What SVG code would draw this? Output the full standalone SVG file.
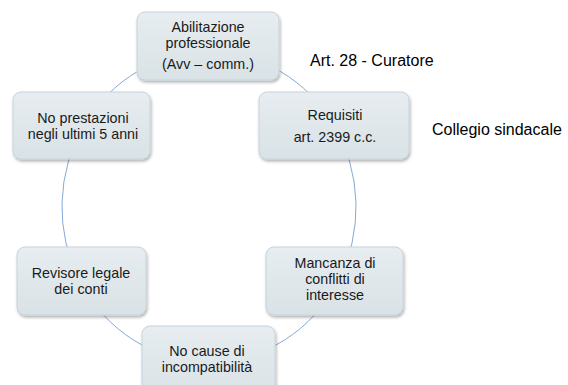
<svg xmlns="http://www.w3.org/2000/svg" width="568" height="385" viewBox="0 0 568 385">
<style>
.box{fill:url(#g);stroke:#c6d3db;stroke-width:1;filter:url(#sh)}
.t{font-family:"Liberation Sans",Arial,sans-serif;font-size:14.3px;fill:#1a1a1a;text-anchor:middle}
.lbl{font-family:"Liberation Sans",Arial,sans-serif;font-size:16px;fill:#000}
.arc{fill:none;stroke:#86a9d6;stroke-width:1}
</style>
<defs>
<linearGradient id="g" x1="0" y1="0" x2="0" y2="1">
<stop offset="0" stop-color="#e7edf0"/>
<stop offset="1" stop-color="#d9e2e6"/>
</linearGradient>
<filter id="sh" x="-10%" y="-10%" width="125%" height="130%">
<feDropShadow dx="1" dy="2" stdDeviation="1.5" flood-color="#000" flood-opacity="0.3"/>
</filter>
</defs>
<rect width="568" height="385" fill="#fff"/>
<g id="connectors">
<path class="arc" d="M209,52 A147,155 0 0 1 333.8,125"/>
<path class="arc" d="M333.8,125 A147,155 0 0 1 338.2,281"/>
<path class="arc" d="M338.2,281 A147,155 0 0 1 209,362"/>
<path class="arc" d="M209,362 A147,155 0 0 1 79.8,281"/>
<path class="arc" d="M79.8,281 A147,155 0 0 1 84.2,125"/>
<path class="arc" d="M84.2,125 A147,155 0 0 1 209,52"/>
</g>
<g id="abilitazione">
<rect class="box" x="137" y="12" width="142" height="68" rx="8"/>
<text class="t" x="208" y="32">Abilitazione</text>
<text class="t" x="208" y="48">professionale</text>
<text class="t" x="208" y="69">(Avv – comm.)</text>
</g>
<g id="requisiti">
<rect class="box" x="259" y="92" width="150" height="67" rx="8"/>
<text class="t" x="335" y="120">Requisiti</text>
<text class="t" x="335" y="142">art. 2399 c.c.</text>
</g>
<g id="mancanza">
<rect class="box" x="266" y="247" width="137" height="68" rx="8"/>
<text class="t" x="335" y="268">Mancanza di</text>
<text class="t" x="335" y="284">conflitti di</text>
<text class="t" x="335" y="300">interesse</text>
</g>
<g id="nocause">
<rect class="box" x="142" y="326" width="133" height="70" rx="8"/>
<text class="t" x="207" y="356">No cause di</text>
<text class="t" x="207" y="372">incompatibilità</text>
</g>
<g id="revisore">
<rect class="box" x="17" y="247" width="129" height="68" rx="8"/>
<text class="t" x="81" y="278">Revisore legale</text>
<text class="t" x="81" y="294">dei conti</text>
</g>
<g id="noprestazioni">
<rect class="box" x="13" y="92" width="137" height="67" rx="8"/>
<text class="t" x="83" y="123">No prestazioni</text>
<text class="t" x="83" y="139">negli ultimi 5 anni</text>
</g>
<g id="labels">
<text class="lbl" x="310" y="66">Art. 28 - Curatore</text>
<text class="lbl" x="432" y="135">Collegio sindacale</text>
</g>
</svg>
